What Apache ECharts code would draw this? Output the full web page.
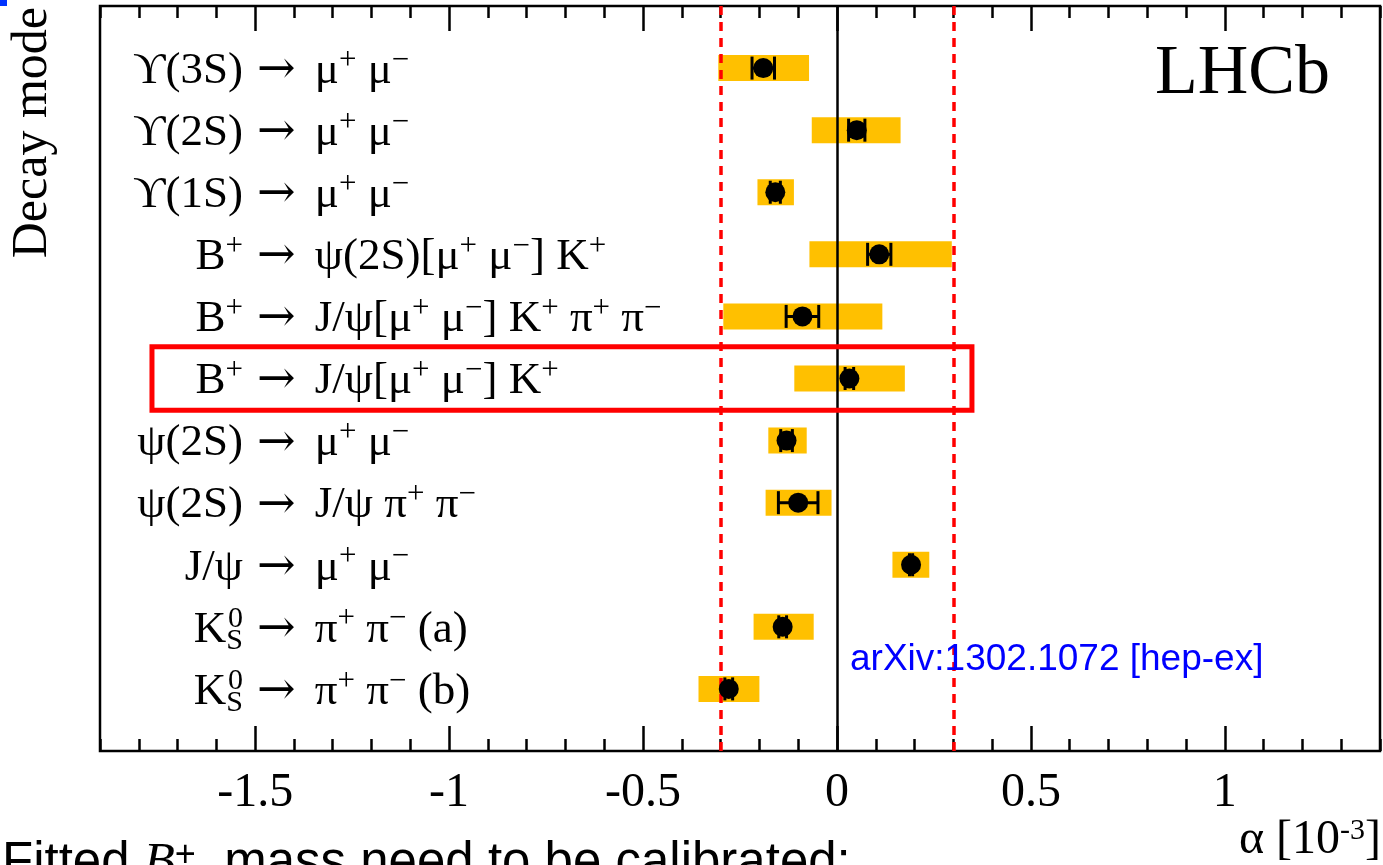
<!DOCTYPE html>
<html>
<head>
<meta charset="utf-8">
<script src="https://cdn.jsdelivr.net/npm/echarts@6/dist/echarts.min.js"></script>
<style>
  html, body { margin: 0; padding: 0; background: #fff; }
  #main { width: 1383px; height: 865px; }
</style>
</head>
<body>
<div id="main"></div>
<script>
// decay modes, top row first; split at the arrow like the aligned table
const modeParent = [
  "ϒ(3S)", "ϒ(2S)", "ϒ(1S)",
  "B{sp|+}", "B{sp|+}", "B{sp|+}",
  "ψ(2S)", "ψ(2S)", "J/ψ",
  "K{sb|S}{sz|0}", "K{sb|S}{sz|0}"
];
const modeProducts = [
  "{ar|→} μ{sp|+} μ{sp|−}",
  "{ar|→} μ{sp|+} μ{sp|−}",
  "{ar|→} μ{sp|+} μ{sp|−}",
  "{ar|→} ψ(2S)[μ{sp|+} μ{sp|−}] K{sp|+}",
  "{ar|→} J/ψ[μ{sp|+} μ{sp|−}] K{sp|+} π{sp|+} π{sp|−}",
  "{ar|→} J/ψ[μ{sp|+} μ{sp|−}] K{sp|+}",
  "{ar|→} μ{sp|+} μ{sp|−}",
  "{ar|→} J/ψ π{sp|+} π{sp|−}",
  "{ar|→} μ{sp|+} μ{sp|−}",
  "{ar|→} π{sp|+} π{sp|−} (a)",
  "{ar|→} π{sp|+} π{sp|−} (b)"
];

// alpha [1e-3]
const centralValue = [-0.190, 0.051, -0.159, 0.109, -0.089, 0.032, -0.130, -0.100, 0.191, -0.140, -0.279];
const statError = [0.029, 0.021, 0.013, 0.030, 0.042, 0.011, 0.015, 0.051, 0.004, 0.010, 0.010];
const systLow = [-0.306, -0.065, -0.205, -0.071, -0.293, -0.110, -0.177, -0.184, 0.143, -0.215, -0.357];
const systHigh = [-0.072, 0.164, -0.111, 0.296, 0.117, 0.175, -0.078, -0.014, 0.238, -0.060, -0.200];

const xMajorTicks = [-1.5, -1, -0.5, 0, 0.5, 1];
const limitLines = [-0.3, 0.3];
const highlightRow = 5;

const nRows = modeParent.length;
const rowY = i => nRows - i; // top row highest

const serif = "'Liberation Serif', 'DejaVu Serif', serif";
const labelRich = {
  sp: { fontFamily: serif, fontSize: 31, verticalAlign: "top", lineHeight: 29 },
  sz: { fontFamily: serif, fontSize: 30, verticalAlign: "top", lineHeight: 22, width: 0 },
  sb: { fontFamily: serif, fontSize: 30, verticalAlign: "bottom", lineHeight: 22 },
  ar: { fontFamily: "'DejaVu Serif', serif", fontSize: 46, lineHeight: 52, padding: [0, 8, 0, 0] }
};

const boxData = [], errData = [], pointData = [];
for (let i = 0; i < nRows; i++) {
  boxData.push([systLow[i], systHigh[i], rowY(i)]);
  errData.push([centralValue[i] - statError[i], centralValue[i] + statError[i], rowY(i)]);
  pointData.push([centralValue[i], rowY(i)]);
}

function xAxisDef(position, ticks, len, withLabels) {
  const ax = {
    type: "value",
    position: position,
    min: -1.9,
    max: 1.4,
    interval: 0.1,
    axisLine: { show: false },
    splitLine: { show: false },
    axisTick: {
      show: true,
      inside: true,
      length: len,
      lineStyle: { color: "#000", width: 2.5 }
    },
    axisLabel: { show: false }
  };
  if (ticks) ax.axisTick.customValues = ticks;
  if (withLabels) {
    ax.axisLabel = {
      show: true,
      customValues: xMajorTicks,
      margin: 18,
      color: "#000",
      fontFamily: serif,
      fontSize: 48
    };
  }
  return ax;
}

function yAxisDef(parts, margin, align) {
  return {
    type: "value",
    position: "left",
    min: 0,
    max: nRows + 1,
    interval: 1,
    axisLine: { show: false },
    axisTick: { show: false },
    splitLine: { show: false },
    axisLabel: {
      inside: true,
      margin: margin,
      align: align,
      color: "#000",
      fontFamily: serif,
      fontSize: 45,
      lineHeight: 52,
      padding: [6, 0, 0, 0],
      rich: labelRich,
      formatter: function (v) {
        const i = nRows - Math.round(v);
        return i >= 0 && i < nRows ? parts[i] : "";
      }
    }
  };
}

const chart = echarts.init(document.getElementById("main"));
const option = {
  animation: false,
  backgroundColor: "#fff",
  grid: {
    left: 100,
    right: 3,
    top: 6,
    bottom: 114,
    show: true,
    borderColor: "#000",
    borderWidth: 2.5,
    backgroundColor: "transparent"
  },
  xAxis: [
    xAxisDef("bottom", null, 12, true),
    xAxisDef("bottom", xMajorTicks, 25, false),
    xAxisDef("top", null, 12, false),
    xAxisDef("top", xMajorTicks, 25, false)
  ],
  yAxis: [
    yAxisDef(modeParent, 143, "right"),
    yAxisDef(modeProducts, 157, "left")
  ],
  series: [
    {
      name: "syst",
      type: "custom",
      z: 1,
      encode: { x: [0, 1], y: 2 },
      data: boxData,
      renderItem: function (params, api) {
        const a = api.coord([api.value(0), api.value(2)]);
        const b = api.coord([api.value(1), api.value(2)]);
        const h = api.size([0, 0.42])[1];
        return {
          type: "rect",
          shape: { x: a[0], y: a[1] - h / 2, width: b[0] - a[0], height: h },
          style: { fill: "#FFC000" }
        };
      },
      markLine: {
        silent: true,
        symbol: "none",
        label: { show: false },
        z: 3,
        data: [
          { xAxis: 0, lineStyle: { color: "#000", width: 2.5, type: "solid" } },
          { xAxis: limitLines[0], lineStyle: { color: "#FF0000", width: 3.5, type: [9, 7] } },
          { xAxis: limitLines[1], lineStyle: { color: "#FF0000", width: 3.5, type: [9, 7] } }
        ]
      },
      markArea: {
        silent: true,
        z: 6,
        itemStyle: { color: "rgba(0,0,0,0)", borderColor: "#FF0000", borderWidth: 5 },
        data: [[
          { xAxis: -1.766, yAxis: rowY(highlightRow) - 0.51 },
          { xAxis: 0.348, yAxis: rowY(highlightRow) + 0.51 }
        ]]
      }
    },
    {
      name: "stat",
      type: "custom",
      z: 4,
      encode: { x: [0, 1], y: 2 },
      data: errData,
      renderItem: function (params, api) {
        const a = api.coord([api.value(0), api.value(2)]);
        const b = api.coord([api.value(1), api.value(2)]);
        const c = 11.5;
        const st = { stroke: "#000", lineWidth: 3 };
        return {
          type: "group",
          children: [
            { type: "line", shape: { x1: a[0], y1: a[1], x2: b[0], y2: b[1] }, style: st },
            { type: "line", shape: { x1: a[0], y1: a[1] - c, x2: a[0], y2: a[1] + c }, style: st },
            { type: "line", shape: { x1: b[0], y1: b[1] - c, x2: b[0], y2: b[1] + c }, style: st }
          ]
        };
      }
    },
    {
      name: "alpha",
      type: "scatter",
      z: 5,
      symbol: "circle",
      symbolSize: 20,
      itemStyle: { color: "#000", opacity: 1 },
      data: pointData
    }
  ],
  graphic: [
    {
      type: "rect",
      shape: { x: 0, y: 0, width: 7, height: 6 },
      style: { fill: "#0033FF" }
    },
    {
      type: "text",
      x: 33, y: 7,
      rotation: Math.PI / 2,
      style: {
        text: "Decay mode",
        fontFamily: serif, fontSize: 50, fill: "#000",
        align: "right", verticalAlign: "middle"
      }
    },
    {
      type: "text",
      x: 1155, y: 75,
      style: {
        text: "LHCb",
        fontFamily: serif, fontSize: 70, fill: "#000",
        align: "left", verticalAlign: "middle"
      }
    },
    {
      type: "text",
      x: 850, y: 660,
      z: 10,
      style: {
        text: "arXiv:1302.1072 [hep-ex]",
        fontFamily: "'Liberation Sans', Arial, sans-serif", fontSize: 37, fill: "#0000FF",
        align: "left", verticalAlign: "middle"
      }
    },
    {
      type: "text",
      x: 1381, y: 840,
      style: {
        text: "α [10{sp|-3}]",
        fontFamily: serif, fontSize: 48, fill: "#000",
        align: "right", verticalAlign: "middle",
        rich: { sp: { fontFamily: serif, fontSize: 30, verticalAlign: "top", lineHeight: 30 } }
      }
    },
    {
      type: "text",
      x: 2, y: 864,
      style: {
        text: "Fitted {b|B}{sp|+}  mass need to be calibrated:",
        fontFamily: "'Liberation Sans', Arial, sans-serif", fontSize: 51, fill: "#000",
        align: "left", verticalAlign: "middle",
        rich: {
          b: { fontFamily: serif, fontStyle: "italic", fontSize: 51 },
          sp: { fontFamily: "'Liberation Sans', sans-serif", fontSize: 36, verticalAlign: "top", lineHeight: 30 }
        }
      }
    }
  ]
};
chart.setOption(option);
</script>
</body>
</html>
